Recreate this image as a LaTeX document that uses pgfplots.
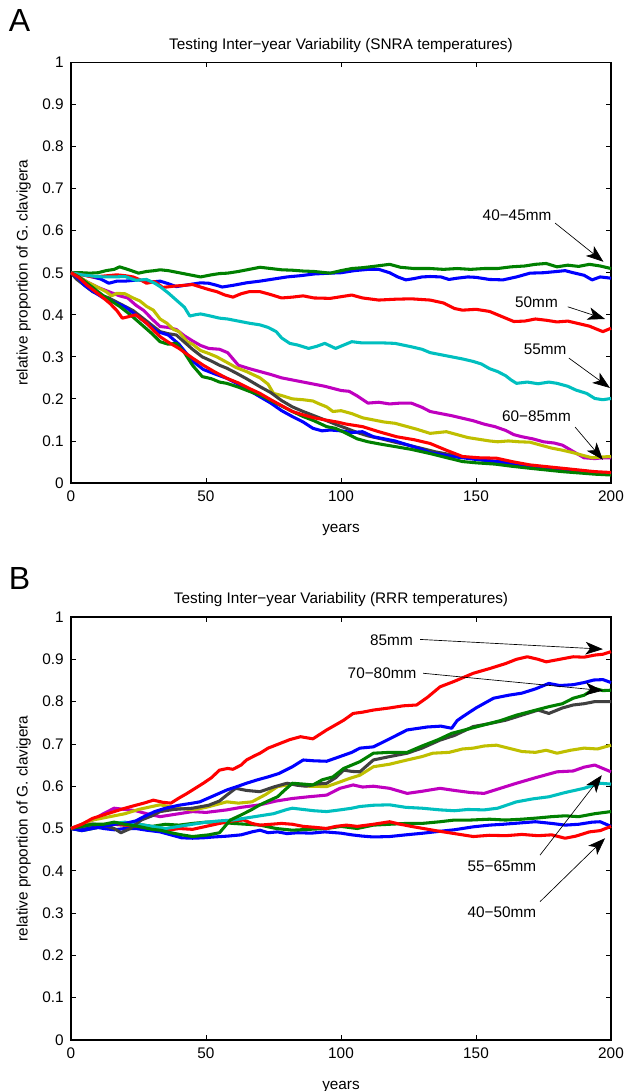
\documentclass[border=0pt]{standalone}
\usepackage{fontspec}
\setmainfont{Liberation Sans}
\usepackage{pgfplots}
\pgfplotsset{compat=1.18}
\usetikzlibrary{arrows.meta}

% matlab default line colours
\definecolor{mB}{rgb}{0,0,1}
\definecolor{mG}{rgb}{0,0.5,0}
\definecolor{mR}{rgb}{1,0,0}
\definecolor{mC}{rgb}{0,0.75,0.75}
\definecolor{mM}{rgb}{0.75,0,0.75}
\definecolor{mY}{rgb}{0.75,0.75,0}
\definecolor{mK}{rgb}{0.25,0.25,0.25}

\newcommand{\fs}{\fontsize{11.5}{13}\selectfont}

\pgfplotsset{
  panel/.style={
    scale only axis, width=405pt,
    xmin=0, xmax=200, ymin=0, ymax=1,
    xtick={0,50,100,150,200},
    ytick={0,0.1,0.2,0.3,0.4,0.5,0.6,0.7,0.8,0.9,1},
    tick align=inside, xtick pos=both, ytick pos=both,
    major tick length=3.75pt,
    axis line style={line width=1pt},
    every tick/.style={black, line width=0.6pt},
    /pgf/number format/assume math mode=true,
    tick label style={font=\fs},
    xticklabel style={yshift=-2.5pt},
    yticklabel style={xshift=-2pt},
    every axis x label/.style={at={([yshift=-35pt]axis description cs:0.5,0)}, anchor=center, font=\fs},
    every axis y label/.style={at={([xshift=-35.5pt]axis description cs:0,0.5)}, rotate=90, anchor=center, font=\fs},
    every axis title/.style={at={([yshift=13pt]axis description cs:0.5,1)}, anchor=center, font=\fs},
    xlabel={years}, ylabel={relative proportion of G. clavigera},
    clip=false,
    every axis plot/.append style={line width=2.3pt, line join=round},
  },
}
\tikzset{
  note/.style={font=\fs},
  arr/.style={-{Stealth[length=13pt,width=9.5pt,inset=3.5pt]}, line width=0.5pt},
}

\begin{document}
\begin{tikzpicture}
\useasboundingbox (-53.25pt,-456pt) rectangle (415.5pt,362.25pt);

\node[font=\fontsize{24}{24}\selectfont] at (-38.5pt,347pt) {A};
\node[font=\fontsize{24}{24}\selectfont] at (-38.5pt,-71.5pt) {B};

% ---------------- panel A ----------------
\begin{axis}[panel, at={(0,0)}, anchor=south west, height=315.4pt,
  title={Testing Inter−year Variability (SNRA temperatures)}]
% 40mm
\addplot[mB] coordinates {(0,0.5)(5,0.495)(8,0.49)(11,0.485)(14,0.475)(17,0.48)(20,0.48)(25,0.483)(30,0.478)(33,0.48)(36,0.474)(39,0.467)(42,0.47)(45,0.473)(48,0.476)(51,0.475)(54,0.47)(56,0.466)(60,0.47)(65,0.476)(70,0.48)(75,0.485)(80,0.49)(85,0.493)(90,0.497)(96,0.499)(100,0.5)(105,0.505)(110,0.508)(114,0.508)(118,0.5)(121,0.49)(124,0.483)(127,0.486)(130,0.49)(133,0.491)(137,0.49)(140,0.484)(143,0.487)(147,0.49)(150,0.489)(155,0.484)(160,0.483)(165,0.49)(170,0.499)(175,0.5)(180,0.503)(183,0.505)(186,0.5)(190,0.494)(193,0.483)(196,0.49)(200,0.487)};
% 45mm
\addplot[mG] coordinates {(0,0.5)(4,0.5)(7,0.499)(10,0.5)(13,0.505)(16,0.508)(18,0.514)(21,0.508)(25,0.499)(28,0.503)(31,0.505)(33,0.507)(36,0.505)(40,0.5)(44,0.495)(48,0.49)(52,0.495)(55,0.498)(58,0.499)(62,0.503)(66,0.508)(70,0.513)(74,0.51)(78,0.507)(82,0.506)(86,0.504)(90,0.503)(96,0.499)(100,0.505)(104,0.51)(108,0.512)(112,0.515)(118,0.52)(122,0.513)(127,0.51)(133,0.51)(138,0.508)(143,0.51)(148,0.508)(153,0.51)(158,0.51)(163,0.514)(168,0.516)(172,0.52)(176,0.522)(180,0.514)(184,0.518)(188,0.515)(192,0.52)(196,0.516)(200,0.51)};
% 50mm
\addplot[mR] coordinates {(0,0.5)(4,0.495)(8,0.49)(12,0.492)(17,0.495)(20,0.493)(23,0.49)(26,0.482)(28,0.475)(31,0.479)(34,0.465)(38,0.468)(42,0.47)(45,0.472)(48,0.466)(51,0.46)(54,0.455)(57,0.447)(60,0.442)(63,0.45)(66,0.455)(70,0.455)(74,0.448)(78,0.44)(82,0.442)(86,0.445)(90,0.44)(96,0.439)(100,0.443)(104,0.447)(108,0.44)(114,0.435)(120,0.437)(126,0.438)(133,0.435)(138,0.428)(142,0.415)(145,0.411)(150,0.413)(155,0.408)(158,0.4)(161,0.392)(164,0.384)(168,0.385)(172,0.39)(176,0.387)(180,0.383)(184,0.385)(188,0.379)(192,0.373)(195,0.365)(197,0.36)(200,0.368)};
% 55mm
\addplot[mC] coordinates {(0,0.5)(4,0.495)(8,0.492)(12,0.49)(16,0.49)(20,0.491)(24,0.482)(28,0.484)(31,0.475)(33,0.467)(36,0.452)(39,0.435)(42,0.418)(44,0.397)(46,0.4)(48,0.402)(51,0.398)(55,0.392)(58,0.39)(62,0.385)(66,0.38)(70,0.376)(73,0.37)(76,0.36)(78,0.345)(81,0.332)(84,0.328)(88,0.32)(91,0.325)(94,0.332)(98,0.32)(101,0.328)(104,0.336)(108,0.333)(112,0.333)(116,0.333)(120,0.332)(123,0.328)(126,0.324)(130,0.318)(133,0.31)(137,0.305)(141,0.3)(145,0.295)(149,0.289)(152,0.283)(155,0.272)(158,0.265)(161,0.255)(163,0.245)(165,0.237)(169,0.24)(173,0.236)(177,0.24)(180,0.237)(184,0.23)(187,0.221)(191,0.213)(194,0.201)(197,0.198)(200,0.201)};
% 60mm
\addplot[mM] coordinates {(0,0.5)(3,0.49)(6,0.478)(10,0.465)(14,0.455)(18,0.445)(21,0.44)(24,0.423)(27,0.41)(30,0.39)(33,0.372)(36,0.37)(39,0.365)(42,0.35)(45,0.338)(48,0.327)(51,0.32)(55,0.318)(58,0.31)(62,0.28)(66,0.272)(70,0.265)(74,0.258)(78,0.25)(82,0.245)(86,0.24)(90,0.235)(94,0.23)(97,0.225)(100,0.22)(103,0.218)(106,0.207)(110,0.19)(114,0.192)(118,0.188)(122,0.19)(126,0.19)(130,0.18)(133,0.17)(137,0.165)(141,0.16)(145,0.154)(149,0.148)(153,0.14)(157,0.134)(161,0.125)(164,0.115)(167,0.11)(171,0.105)(175,0.098)(179,0.095)(182,0.09)(186,0.075)(190,0.06)(194,0.058)(197,0.06)(200,0.06)};
% 65mm
\addplot[mY] coordinates {(0,0.5)(3,0.49)(6,0.478)(10,0.465)(13,0.455)(15,0.445)(17,0.451)(20,0.45)(23,0.44)(25.5,0.433)(28,0.42)(30.5,0.411)(33,0.39)(35.5,0.38)(38,0.365)(40,0.36)(43,0.336)(45,0.33)(48,0.315)(51,0.308)(54,0.3)(57.7,0.287)(61,0.275)(65,0.265)(70,0.25)(73,0.235)(75,0.213)(78,0.208)(82,0.2)(86,0.198)(89.6,0.195)(92,0.188)(94.7,0.181)(97,0.17)(100,0.172)(104,0.165)(108,0.155)(112,0.15)(116,0.145)(120,0.142)(124,0.135)(128,0.128)(133,0.118)(136,0.12)(139,0.122)(143,0.115)(147,0.108)(151,0.104)(155,0.1)(158,0.098)(162,0.1)(166,0.098)(170,0.097)(174,0.09)(178,0.083)(182,0.078)(186,0.072)(190,0.065)(193,0.06)(197,0.062)(200,0.063)};
% 70mm
\addplot[mK] coordinates {(0,0.5)(2,0.485)(4,0.475)(6,0.465)(8,0.455)(11,0.447)(14,0.44)(17,0.43)(20,0.42)(23,0.41)(26,0.395)(30,0.375)(33,0.36)(36,0.355)(39,0.352)(42,0.335)(45,0.318)(48.6,0.3)(52,0.29)(55,0.28)(57.7,0.273)(61,0.262)(65,0.248)(70,0.229)(74,0.215)(78,0.196)(82,0.181)(86,0.17)(90,0.16)(94,0.15)(98.6,0.138)(102,0.13)(106,0.12)(110,0.112)(115,0.105)(120,0.097)(125,0.09)(130,0.082)(135,0.074)(140,0.068)(145,0.062)(150,0.057)(155,0.052)(160,0.048)(165,0.043)(170,0.04)(175,0.035)(180,0.032)(185,0.028)(190,0.026)(195,0.023)(200,0.022)};
% 75mm
\addplot[mB] coordinates {(0,0.5)(3,0.485)(5,0.47)(8,0.456)(12,0.44)(16,0.43)(20,0.419)(24,0.4)(28,0.38)(32,0.36)(36,0.352)(40,0.33)(45,0.29)(49,0.27)(53,0.26)(57.7,0.249)(62,0.235)(66,0.22)(70,0.205)(74,0.19)(78,0.172)(82,0.158)(86,0.145)(89.6,0.13)(93,0.124)(96,0.126)(100,0.124)(104,0.12)(108,0.122)(112,0.11)(116,0.105)(120,0.1)(125,0.09)(130,0.08)(133,0.072)(137,0.068)(141,0.063)(145,0.06)(150,0.056)(155,0.053)(160,0.05)(165,0.046)(170,0.04)(175,0.037)(180,0.035)(185,0.032)(190,0.028)(195,0.025)(200,0.023)};
% 80mm
\addplot[mG] coordinates {(0,0.5)(3,0.49)(6,0.475)(9,0.46)(12,0.445)(14.4,0.435)(18,0.42)(22,0.4)(27,0.372)(30,0.355)(33,0.336)(36,0.33)(39,0.332)(42,0.31)(45,0.28)(48.6,0.253)(52,0.248)(55,0.24)(57.7,0.237)(62,0.228)(66,0.218)(70,0.209)(74,0.196)(78,0.183)(82,0.17)(86,0.158)(90,0.148)(94.7,0.134)(98,0.13)(102,0.118)(106,0.105)(110,0.098)(115,0.092)(120.6,0.086)(126,0.08)(133,0.07)(138,0.062)(145,0.051)(150,0.048)(157,0.045)(163,0.04)(170,0.035)(176,0.031)(182,0.027)(188,0.024)(194,0.021)(200,0.019)};
% 85mm
\addplot[mR] coordinates {(0,0.5)(3,0.488)(6,0.47)(9,0.455)(12,0.44)(14.4,0.427)(17,0.41)(19,0.392)(21,0.395)(24,0.4)(26,0.39)(28,0.38)(31,0.36)(33,0.348)(36,0.335)(40,0.32)(45,0.297)(49,0.28)(53,0.265)(57.7,0.249)(62,0.238)(66,0.225)(70,0.213)(74,0.198)(78,0.184)(82,0.17)(86,0.162)(90,0.155)(94,0.15)(98.6,0.145)(102,0.14)(108,0.134)(114,0.122)(120.6,0.11)(127,0.103)(133,0.094)(139,0.078)(145,0.063)(151,0.06)(157.6,0.059)(164,0.05)(170,0.043)(176,0.039)(182,0.035)(188,0.031)(194,0.027)(200,0.025)};

\node[note] at (axis cs:165.2,0.637) {40−45mm};
\draw[arr] (axis cs:179.3,0.618) -- (axis cs:197.2,0.526);
\node[note] at (axis cs:172.4,0.43) {50mm};
\draw[arr] (axis cs:184,0.419) -- (axis cs:197.8,0.39);
\node[note] at (axis cs:175.6,0.319) {55mm};
\draw[arr] (axis cs:184.4,0.297) -- (axis cs:199.6,0.226);
\node[note] at (axis cs:172.4,0.159) {60−85mm};
\draw[arr] (axis cs:186.7,0.133) -- (axis cs:197,0.055);
\end{axis}

% ---------------- panel B ----------------
\begin{axis}[panel, at={(0,-417.75pt)}, anchor=south west, height=317.25pt,
  title={Testing Inter−year Variability (RRR temperatures)}]
% 40mm
\addplot[mB] coordinates {(0,0.5)(4,0.497)(8,0.505)(12,0.5)(16,0.497)(20,0.5)(24,0.5)(28,0.496)(33,0.492)(37,0.485)(41,0.478)(45,0.477)(49,0.478)(53,0.48)(58,0.482)(63,0.485)(67,0.492)(70,0.496)(73,0.49)(76.5,0.492)(80,0.488)(84,0.49)(89,0.489)(94,0.492)(100,0.489)(104,0.485)(108,0.482)(112,0.48)(118,0.481)(124,0.485)(130.5,0.489)(136,0.493)(142,0.497)(149,0.504)(155,0.508)(160,0.51)(166,0.513)(172,0.516)(178,0.512)(183,0.508)(188,0.51)(193,0.515)(196,0.516)(200,0.505)};
% 45mm
\addplot[mG] coordinates {(0,0.5)(4,0.495)(8,0.5)(12,0.505)(16,0.51)(20,0.508)(25,0.51)(30,0.505)(35,0.51)(40,0.508)(45,0.512)(50,0.515)(55,0.515)(60,0.512)(65,0.51)(70,0.508)(76,0.5)(82,0.496)(88,0.498)(94.7,0.5)(100,0.505)(106,0.5)(112,0.508)(118,0.51)(124,0.512)(130,0.512)(136.7,0.516)(142,0.52)(148,0.52)(155,0.522)(161,0.52)(167,0.522)(173,0.525)(178,0.528)(183,0.53)(188,0.528)(194,0.535)(200,0.54)};
% 50mm
\addplot[mR] coordinates {(0,0.5)(4,0.505)(8,0.51)(12,0.505)(16,0.51)(20,0.508)(25,0.505)(30,0.5)(35,0.495)(40,0.5)(45,0.498)(50,0.505)(55,0.512)(60,0.518)(64,0.52)(67,0.512)(70,0.508)(74,0.51)(78,0.512)(82,0.51)(86,0.505)(90,0.503)(94.7,0.5)(98,0.505)(102,0.508)(106,0.505)(112,0.51)(118,0.516)(122,0.51)(126,0.505)(130.5,0.5)(135,0.495)(140,0.49)(145,0.485)(149,0.481)(155,0.484)(161,0.483)(167,0.486)(173,0.483)(178,0.485)(183,0.477)(187,0.482)(192,0.492)(196,0.495)(200,0.505)};
% 55mm
\addplot[mC] coordinates {(0,0.5)(4,0.505)(8,0.51)(12,0.508)(16,0.512)(20,0.515)(25,0.51)(30,0.505)(35,0.5)(40,0.505)(45,0.51)(50,0.515)(55,0.518)(60,0.52)(65,0.525)(70,0.53)(75,0.535)(80,0.545)(82,0.548)(86,0.545)(90,0.542)(94.7,0.54)(99.6,0.544)(104,0.548)(107,0.552)(112,0.555)(118,0.556)(124,0.55)(130,0.548)(136.7,0.544)(142,0.542)(147,0.545)(153,0.544)(158,0.548)(165,0.563)(171,0.57)(177,0.575)(183,0.585)(190,0.595)(196,0.607)(200,0.605)};
% 60mm
\addplot[mM] coordinates {(0,0.5)(4,0.51)(8,0.52)(12,0.535)(16,0.548)(20,0.545)(24,0.542)(28,0.535)(33,0.528)(38,0.533)(45,0.54)(50,0.538)(57.7,0.544)(63,0.55)(70,0.556)(76,0.565)(82,0.571)(88,0.575)(94.7,0.579)(99.6,0.595)(104.5,0.603)(108,0.598)(112,0.6)(118,0.595)(124.5,0.583)(130,0.588)(136.7,0.595)(142,0.59)(148,0.585)(153,0.583)(159,0.595)(165,0.607)(172,0.62)(180,0.634)(186,0.636)(190,0.645)(194,0.65)(197,0.642)(200,0.634)};
% 65mm
\addplot[mY] coordinates {(0,0.5)(4,0.51)(8,0.52)(12,0.525)(16,0.53)(20,0.535)(25,0.545)(30,0.552)(33,0.556)(38,0.55)(45,0.544)(50,0.55)(57.7,0.563)(62,0.56)(67,0.563)(72,0.58)(76.5,0.599)(82,0.605)(88,0.6)(94.7,0.599)(99.6,0.61)(103,0.618)(107,0.626)(112,0.646)(118,0.652)(124.5,0.662)(130,0.67)(134,0.678)(140,0.68)(145,0.688)(149,0.69)(153,0.695)(157.6,0.697)(162,0.69)(167,0.682)(172,0.68)(176,0.685)(180,0.678)(185,0.685)(190,0.69)(195,0.688)(200,0.697)};
% 70mm
\addplot[mK] coordinates {(0,0.5)(4,0.505)(8,0.51)(12,0.508)(16,0.5)(18.5,0.49)(22,0.5)(26,0.52)(30,0.53)(33,0.54)(38,0.545)(45,0.548)(51,0.555)(55,0.565)(57.7,0.579)(61,0.595)(65,0.59)(70,0.587)(75,0.598)(80,0.607)(84,0.602)(87,0.6)(91,0.605)(94.7,0.607)(98,0.62)(101,0.638)(104,0.635)(107,0.634)(112,0.662)(118,0.67)(124.5,0.678)(130,0.69)(136.7,0.709)(142,0.72)(149,0.741)(155,0.748)(161,0.756)(167,0.768)(173,0.78)(177,0.772)(182,0.785)(186,0.792)(190,0.795)(194,0.8)(200,0.8)};
% 75mm
\addplot[mB] coordinates {(0,0.5)(4,0.495)(8,0.5)(12,0.505)(16,0.51)(20,0.512)(24,0.518)(27,0.528)(31,0.54)(35,0.548)(40,0.555)(45,0.56)(47.7,0.563)(52,0.575)(57.7,0.591)(61,0.598)(65,0.607)(69,0.615)(73,0.622)(77,0.63)(82,0.646)(86,0.662)(90,0.66)(94.7,0.659)(99.6,0.67)(104,0.68)(107,0.69)(112,0.693)(118,0.712)(124.5,0.733)(132,0.74)(137,0.742)(141,0.737)(143,0.755)(145,0.764)(150,0.785)(156.5,0.808)(162,0.815)(167,0.82)(172,0.83)(177,0.843)(181,0.838)(186,0.84)(190,0.845)(193.6,0.851)(197,0.852)(200,0.845)};
% 80mm
\addplot[mG] coordinates {(0,0.5)(4,0.505)(8,0.51)(12,0.51)(16,0.515)(20,0.51)(25,0.505)(30,0.498)(33,0.496)(37,0.49)(41,0.485)(45,0.481)(48,0.483)(51,0.485)(55,0.49)(57,0.505)(59,0.52)(63,0.532)(67,0.545)(70,0.556)(73,0.565)(76.5,0.575)(79,0.59)(82,0.607)(86,0.605)(89.6,0.603)(93,0.615)(97,0.622)(101,0.642)(104,0.65)(107,0.658)(112,0.678)(118,0.68)(124.5,0.68)(130,0.695)(136,0.71)(141,0.725)(147,0.735)(153,0.745)(159,0.755)(165,0.768)(171,0.778)(177,0.788)(182,0.795)(186,0.808)(190,0.815)(194,0.831)(197,0.826)(200,0.827)};
% 85mm
\addplot[mR] coordinates {(0,0.5)(4,0.51)(8,0.524)(12,0.532)(16,0.54)(20,0.548)(24,0.555)(27,0.56)(30.5,0.567)(34,0.562)(37,0.56)(40,0.572)(43,0.583)(46,0.595)(49,0.607)(52,0.62)(55,0.638)(58,0.642)(60,0.64)(63,0.65)(65,0.662)(68,0.672)(70,0.678)(73,0.69)(77,0.7)(81,0.71)(85,0.717)(89.6,0.712)(94.7,0.733)(98,0.745)(101,0.756)(104.5,0.772)(108,0.775)(112,0.78)(118,0.785)(123,0.79)(128,0.792)(132,0.81)(136.7,0.835)(142,0.848)(149,0.867)(155,0.878)(161,0.89)(165,0.9)(169,0.906)(173,0.9)(176,0.894)(181,0.9)(186,0.906)(190,0.905)(194,0.91)(197,0.912)(200,0.918)};

\node[note] at (axis cs:118.7,0.946) {85mm};
\draw[arr] (axis cs:129.3,0.947) -- (axis cs:197,0.924);
\node[note] at (axis cs:115.2,0.868) {70−80mm};
\draw[arr] (axis cs:130.4,0.867) -- (axis cs:197,0.826);
\node[note] at (axis cs:159.6,0.41) {55−65mm};
\draw[arr] (axis cs:173.7,0.437) -- (axis cs:196.6,0.626);
\node[note] at (axis cs:159.6,0.303) {40−50mm};
\draw[arr] (axis cs:173.7,0.327) -- (axis cs:197.8,0.477);
\end{axis}
\end{tikzpicture}
\end{document}
